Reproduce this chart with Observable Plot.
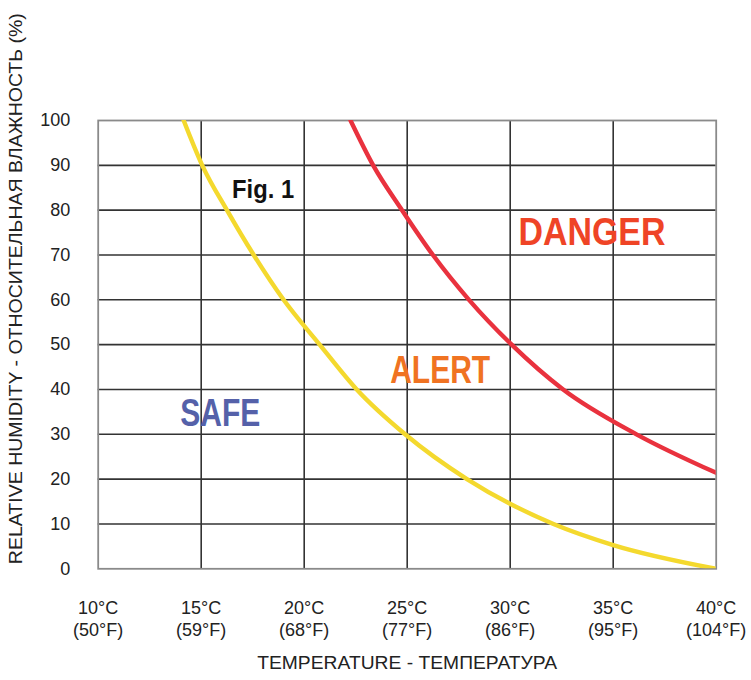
<!DOCTYPE html>
<html>
<head>
<meta charset="utf-8">
<script src="https://cdn.jsdelivr.net/npm/d3@7"></script>
<script src="https://cdn.jsdelivr.net/npm/@observablehq/plot@0.6"></script>
<style>
  html, body { margin: 0; padding: 0; background: #fff; }
  #chart svg { display: block; }
</style>
</head>
<body>
<div id="chart"></div>
<script>
// Temperature ticks (°C) and their Fahrenheit labels
const tempTicks = [10, 15, 20, 25, 30, 35, 40];
const fahrLabels = ["50°F", "59°F", "68°F", "77°F", "86°F", "95°F", "104°F"];
const humidityTicks = [0, 10, 20, 30, 40, 50, 60, 70, 80, 90, 100];

// SAFE / ALERT boundary (yellow)
const safeT  = [14.15, 15.05, 16.25, 17.55, 19.0, 20.75, 22.55, 24.9, 27.9, 32.1, 35.0, 40.0];
const safeRH = [100,   90,    80,    70,    60,   50,    40,    30,   20,   10,   5.3,  0];

// ALERT / DANGER boundary (red)
const dangerT  = [22.25, 23.35, 24.75, 26.25, 28.0, 30.07, 32.57, 36.13, 40.0];
const dangerRH = [100,   90,    80,    70,    60,   50,    40,    30,    21.4];

// Zone labels (data units)
const zoneText  = ["SAFE", "ALERT", "DANGER"];
const zoneT     = [15.93, 26.6, 33.97];
const zoneRH    = [34.7, 44.2, 75.0];
const zoneColor = ["#5561A9", "#F07322", "#EF4426"];
const zoneWidth = [80, 100, 147];

const xTitle = "TEMPERATURE - ТЕМПЕРАТУРА";
const yTitle = "RELATIVE HUMIDITY - ОТНОСИТЕЛЬНАЯ ВЛАЖНОСТЬ (%)";

const safeLine = safeT.map((t, i) => ({t, rh: safeRH[i]}));
const dangerLine = dangerT.map((t, i) => ({t, rh: dangerRH[i]}));
const zones = zoneText.map((s, i) => ({s, t: zoneT[i], rh: zoneRH[i], c: zoneColor[i]}));

const font = "Liberation Sans, Arial, Helvetica, sans-serif";

const chart = Plot.plot({
  width: 751,
  height: 680,
  marginLeft: 97.7,
  marginRight: 35.3,
  marginTop: 120,
  marginBottom: 111.7,
  style: {fontFamily: font, fontSize: "18px", color: "#222", background: "#fff"},
  x: {domain: [10, 40]},
  y: {domain: [0, 100]},
  marks: [
    Plot.gridX(tempTicks.slice(1, -1), {stroke: "#333", strokeOpacity: 1, strokeWidth: 1.6}),
    Plot.gridY(humidityTicks.slice(1, -1), {stroke: "#333", strokeOpacity: 1, strokeWidth: 1.6}),
    Plot.frame({stroke: "#8a8a8a", strokeWidth: 1.8}),
    Plot.axisY(humidityTicks, {
      tickSize: 0, tickPadding: 28, fontSize: 18, fill: "#222",
      label: null
    }),
    Plot.axisX(tempTicks, {
      tickSize: 0, tickPadding: 30, fontSize: 18, fill: "#222", lineHeight: 1.2,
      tickFormat: (d) => `${d}°C\n(${fahrLabels[tempTicks.indexOf(d)]})`,
      label: null
    }),
    Plot.line(safeLine, {x: "t", y: "rh", stroke: "#F4D92E", strokeWidth: 4.4, curve: "monotone-x", clip: true}),
    Plot.line(dangerLine, {x: "t", y: "rh", stroke: "#E9323E", strokeWidth: 4.4, curve: "monotone-x", clip: true}),
    Plot.text(zones, {
      x: "t", y: "rh", text: "s", fill: "c",
      fontSize: 39, fontWeight: "bold"
    }),
    Plot.text(["Fig. 1"], {
      x: [16.5], y: [84.55], textAnchor: "start",
      fontSize: 25, fontWeight: "bold", fill: "#111"
    }),
    Plot.text([xTitle], {
      frameAnchor: "bottom", dy: 100, fontSize: 18.5, fill: "#222"
    }),
    Plot.text([yTitle], {
      frameAnchor: "left", textAnchor: "middle", dx: -82, dy: -56, rotate: -90, fontSize: 19, fill: "#222"
    })
  ]
});

// Fit the lettering widths to the reference
const fit = {"SAFE": zoneWidth[0], "ALERT": zoneWidth[1], "DANGER": zoneWidth[2], "Fig. 1": 62};
fit[xTitle] = 300;
fit[yTitle] = 551;
d3.select(chart).selectAll("text").each(function() {
  const w = fit[this.textContent];
  if (w) d3.select(this).attr("textLength", w).attr("lengthAdjust", "spacingAndGlyphs");
});

document.getElementById("chart").appendChild(chart);
</script>
</body>
</html>
